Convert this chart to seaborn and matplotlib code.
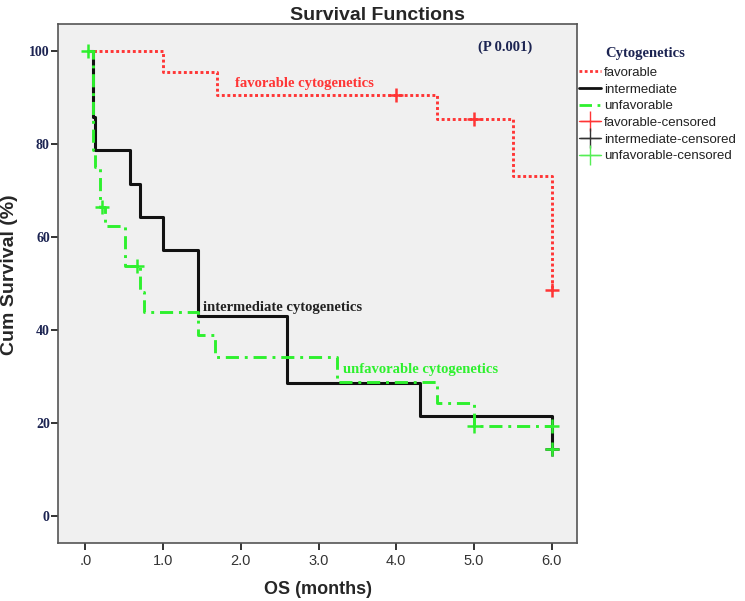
import matplotlib
matplotlib.use("Agg")
import matplotlib.pyplot as plt
import pandas as pd
import seaborn as sns
from matplotlib.lines import Line2D

# Kaplan-Meier steps (time in months, survival in %)
fav_time = [0.04, 1.0, 1.7, 4.53, 5.5, 6.0]
fav_surv = [100, 95.5, 90.5, 85.4, 73.1, 48.6]
fav_cens_time = [4.0, 5.0, 6.0]
fav_cens_surv = [90.5, 85.4, 48.6]

int_time = [0.04, 0.1, 0.12, 0.57, 0.7, 1.0, 1.45, 2.6, 4.3, 6.0]
int_surv = [100, 85.7, 78.6, 71.4, 64.3, 57.1, 42.9, 28.6, 21.4, 14.3]
int_cens_time = [6.0]
int_cens_surv = [14.3]

unf_time = [0.04, 0.1, 0.13, 0.19, 0.25, 0.51, 0.7, 0.75, 1.45, 1.67, 3.24, 4.53, 5.0, 6.0]
unf_surv = [100, 78.7, 75.1, 66.5, 62.4, 53.7, 48.2, 43.9, 38.9, 34.2, 28.8, 24.3, 19.4, 19.4]
unf_cens_time = [0.04, 0.22, 0.67, 5.0, 6.0, 6.0]
unf_cens_surv = [100, 66.5, 53.7, 19.4, 19.4, 14.3]

x_ticks = [0, 1, 2, 3, 4, 5, 6]
x_ticklabels = [".0", "1.0", "2.0", "3.0", "4.0", "5.0", "6.0"]
y_ticks = [0, 20, 40, 60, 80, 100]

RED = "#ff3535"
BLACK = "#111111"
GREEN = "#2ef02e"
NAVY = "#1c2452"

sns.set_theme(style="ticks")
plt.rcParams["font.family"] = ["Liberation Sans", "DejaVu Sans"]

fig = plt.figure(figsize=(7.45, 6.01), dpi=100)
ax = fig.add_axes([0.078, 0.097, 0.697, 0.863])
ax.set_facecolor("#f0f0f0")

fav = pd.DataFrame({"t": fav_time, "s": fav_surv})
inter = pd.DataFrame({"t": int_time, "s": int_surv})
unf = pd.DataFrame({"t": unf_time, "s": unf_surv})

sns.lineplot(data=fav, x="t", y="s", ax=ax, color=RED, lw=2.1,
             drawstyle="steps-post", linestyle=(0, (1, 0.9)), sort=False)
sns.lineplot(data=inter, x="t", y="s", ax=ax, color=BLACK, lw=2.2,
             drawstyle="steps-post", sort=False)
sns.lineplot(data=unf, x="t", y="s", ax=ax, color=GREEN, lw=2.1,
             drawstyle="steps-post", linestyle=(0, (4.5, 2, 1, 2)), sort=False)

# censored marks
for t, s, c in [(fav_cens_time, fav_cens_surv, RED),
                (int_cens_time, int_cens_surv, BLACK),
                (unf_cens_time, unf_cens_surv, GREEN)]:
    sns.scatterplot(x=t, y=s, ax=ax, marker="+", s=90, color=c,
                    linewidth=1.8, zorder=5)

ax.set_xlim(-0.35, 6.33)
ax.set_ylim(-5.8, 105.8)
ax.set_xticks(x_ticks)
ax.set_xticklabels(x_ticklabels, fontsize=10.5, color="#333333")
ax.set_yticks(y_ticks)
ax.set_yticklabels([str(v) for v in y_ticks], fontsize=10, color=NAVY,
                   family="Liberation Serif", fontweight="bold")
ax.tick_params(axis="both", length=5, width=1.4, color="#333333")
ax.tick_params(axis="y", pad=1)
ax.tick_params(axis="x", pad=3)
for sp in ax.spines.values():
    sp.set_visible(True)
    sp.set_color("#555555")
    sp.set_linewidth(1.2)

ax.set_xlabel("OS (months)", fontsize=13, fontweight="bold", va="top")
ax.xaxis.set_label_coords(0.5, -0.073)
ax.set_ylabel("Cum Survival (%)", fontsize=14, fontweight="bold")
ax.yaxis.set_label_coords(-0.077, 0.516)
fig.suptitle("Survival Functions", fontsize=14, fontweight="bold",
             x=0.507, y=0.988)

serif = dict(family="Liberation Serif", fontweight="bold", fontsize=10.5)
ax.text(5.4, 100.9, "(P 0.001)", color=NAVY, ha="center", va="center", **serif)
ax.text(1.92, 93.1, "favorable cytogenetics", color=RED, ha="left", va="center", **serif)
ax.text(1.52, 44.9, "intermediate cytogenetics", color="#222222", ha="left", va="center", **serif)
ax.text(3.32, 31.4, "unfavorable cytogenetics", color=GREEN, ha="left", va="center", **serif)

# legend title sits over the entry labels, not the handles
ax.text(1.053, 0.944, "Cytogenetics", transform=ax.transAxes, color=NAVY,
        ha="left", va="center", **serif)

handles = [
    Line2D([], [], color=RED, lw=2, linestyle=(0, (1, 0.9))),
    Line2D([], [], color=BLACK, lw=2),
    Line2D([], [], color=GREEN, lw=2, linestyle=(0, (4.5, 2, 1, 2))),
    Line2D([], [], color=RED, lw=1, marker="+", markersize=14, markeredgewidth=1),
    Line2D([], [], color="#333333", lw=1, marker="+", markersize=14, markeredgewidth=1),
    Line2D([], [], color="#55ee55", lw=1, marker="+", markersize=14, markeredgewidth=1),
]
labels = ["favorable", "intermediate", "unfavorable",
          "favorable-censored", "intermediate-censored", "unfavorable-censored"]
leg = ax.legend(handles, labels, loc="upper left", bbox_to_anchor=(1.003, 0.918),
                frameon=False, fontsize=9.5, handlelength=1.7, handletextpad=0.2,
                labelspacing=0.34, borderaxespad=0, borderpad=0)
for txt in leg.get_texts():
    txt.set_color("#222222")

fig.savefig("out.png", dpi=100, facecolor="white")
